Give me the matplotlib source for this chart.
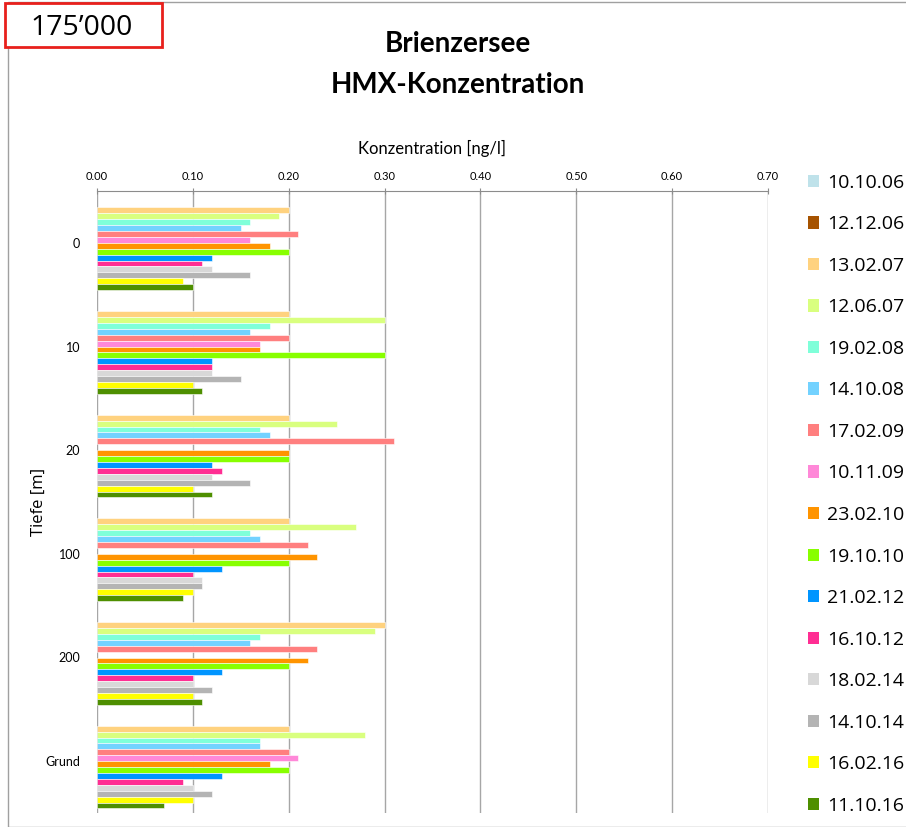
import numpy as np
import matplotlib
matplotlib.use("Agg")
import matplotlib.pyplot as plt
from matplotlib.patches import Rectangle, Patch

# depth categories (top to bottom)
depths = ["0", "10", "20", "100", "200", "Grund"]

# sampling dates (legend order) and their colours
dates = ["10.10.06", "12.12.06", "13.02.07", "12.06.07", "19.02.08", "14.10.08",
         "17.02.09", "10.11.09", "23.02.10", "19.10.10", "21.02.12", "16.10.12",
         "18.02.14", "14.10.14", "16.02.16", "11.10.16"]
colors = ["#BFE2EA", "#A65300", "#FFD27F", "#D9FF7F", "#7FFFD9", "#73D2FF",
          "#FF7F7F", "#FF88D8", "#FF9400", "#88FF00", "#0095FF", "#FF2E93",
          "#D8D8D8", "#B4B4B4", "#FFFF00", "#4E8F00"]

# HMX concentration [ng/l] per depth, one value per date (None = no data)
hmx_0 = [None, None, 0.20, 0.19, 0.16, 0.15, 0.21, 0.16, 0.18, 0.20, 0.12, 0.11, 0.12, 0.16, 0.09, 0.10]
hmx_10 = [None, None, 0.20, 0.30, 0.18, 0.16, 0.20, 0.17, 0.17, 0.30, 0.12, 0.12, 0.12, 0.15, 0.10, 0.11]
hmx_20 = [None, None, 0.20, 0.25, 0.17, 0.18, 0.31, None, 0.20, 0.20, 0.12, 0.13, 0.12, 0.16, 0.10, 0.12]
hmx_100 = [None, None, 0.20, 0.27, 0.16, 0.17, 0.22, None, 0.23, 0.20, 0.13, 0.10, 0.11, 0.11, 0.10, 0.09]
hmx_200 = [None, None, 0.30, 0.29, 0.17, 0.16, 0.23, None, 0.22, 0.20, 0.13, 0.10, 0.10, 0.12, 0.10, 0.11]
hmx_grund = [None, None, 0.20, 0.28, 0.17, 0.17, 0.20, 0.21, 0.18, 0.20, 0.13, 0.09, 0.10, 0.12, 0.10, 0.07]

values = np.array([hmx_0, hmx_10, hmx_20, hmx_100, hmx_200, hmx_grund], dtype=float)

plt.rcParams["font.family"] = ["Lato", "DejaVu Sans"]

W, H = 906, 827
fig = plt.figure(figsize=(W / 100, H / 100), dpi=100)
ax = fig.add_axes([97 / W, 1 - 813 / H, (768 - 97) / W, (813 - 191) / H])

n = len(dates)
slot = 0.057
ypos = np.arange(len(depths))
for k in range(n):
    offs = -n * slot / 2 + (k + 0.5) * slot
    ax.barh(ypos + offs, values[:, k], height=slot, color=colors[k],
            edgecolor="white", linewidth=0.4, zorder=3)

ax.set_xlim(0, 0.70)
ax.set_ylim(len(depths) - 0.5, -0.5)
ax.set_xticks(np.arange(0, 0.701, 0.1))
ax.set_xticklabels([f"{v:.2f}" for v in np.arange(0, 0.701, 0.1)], fontsize=8)
ax.xaxis.tick_top()
ax.xaxis.set_label_position("top")
ax.tick_params(axis="x", direction="inout", length=5, color="#8C8C8C", pad=4)
ax.set_yticks(ypos)
ax.set_yticklabels(depths, fontsize=9)
ax.tick_params(axis="y", length=0, pad=12)
ax.grid(axis="x", color="#A6A6A6", linewidth=1, zorder=0)

for s in ["right", "bottom", "left"]:
    ax.spines[s].set_visible(False)
ax.spines["top"].set_color("#8C8C8C")

ax.set_xlabel("Konzentration [ng/l]", fontsize=12, labelpad=12)
ax.set_ylabel("Tiefe [m]", fontsize=12, family=["Open Sans", "DejaVu Sans"])
ax.yaxis.set_label_coords((47 - 97) / (768 - 97), 0.5)

fig.text(458 / W, 1 - 44 / H, "Brienzersee", ha="center", va="center",
         fontsize=20, fontweight="bold")
fig.text(458 / W, 1 - 85 / H, "HMX-Konzentration", ha="center", va="center",
         fontsize=20, fontweight="bold")

# chart frame and the red label box
fig.patches.append(Rectangle((8 / W, 0), 1, 1 - 2 / H, transform=fig.transFigure,
                             fill=False, edgecolor="#A0A0A0", linewidth=1))
fig.patches.append(Rectangle((5 / W, 1 - 47 / H), 157 / W, 44 / H, transform=fig.transFigure,
                             facecolor="white", edgecolor="#E8201C", linewidth=2))
fig.text(82 / W, 1 - 28 / H, "175\u2019000", ha="center", va="center", fontsize=20.5,
         family=["Open Sans", "DejaVu Sans"])

handles = [Patch(facecolor=c, edgecolor="none") for c in colors]
fig.legend(handles, dates, loc="upper left", bbox_to_anchor=(800 / W, 1 - 166 / H),
           frameon=False, labelspacing=1.21, handlelength=0.6,
           handleheight=0.6, handletextpad=0.4, borderaxespad=0,
           prop={"family": ["Open Sans", "DejaVu Sans"], "size": 14})

fig.savefig("out.png", dpi=100)
